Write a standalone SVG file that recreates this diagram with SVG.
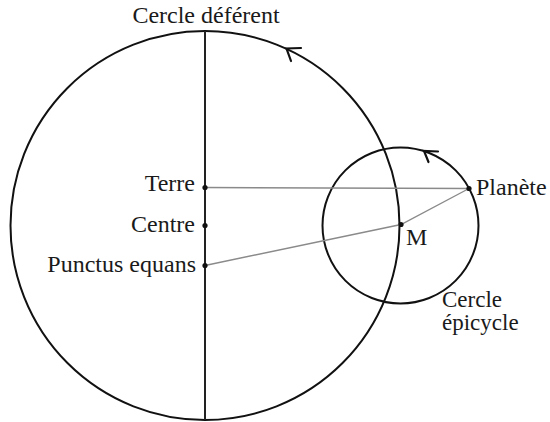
<svg xmlns="http://www.w3.org/2000/svg" width="550" height="422" viewBox="0 0 550 422">
<style>
text{font-family:'Liberation Serif','DejaVu Serif','Times New Roman',serif;font-size:24px;fill:#1a1a1a}
.s{font-size:23px}
.c{fill:none;stroke:#111;stroke-width:2}
.g{fill:none;stroke:#8a8a8a;stroke-width:1.4}
.a{fill:none;stroke:#111;stroke-width:2.2;stroke-linecap:round;stroke-linejoin:miter}
.d{fill:#111}
</style>
<rect width="550" height="422" fill="#fff"/>
<g id="deferent">
<circle class="c" cx="205" cy="225.5" r="194.5"/>
<line x1="205" y1="31" x2="205" y2="420" stroke="#222" stroke-width="2"/>
<text x="206" y="22.5" text-anchor="middle">Cercle déférent</text>
</g>
<g id="epicycle">
<circle class="c" cx="400.5" cy="225.5" r="78"/>
<text class="s" x="442" y="307">Cercle</text>
<text class="s" x="442" y="330">épicycle</text>
</g>
<g id="connectors">
<line class="g" x1="205" y1="187.5" x2="469" y2="188.5"/>
<polyline class="g" points="205,265.5 401,224.5 469,188.5"/>
<path class="a" d="M301 48 L286.5 48.5 L291 61"/>
<path class="a" d="M438 151.5 L424 151 L428.5 162"/>
</g>
<g id="terre">
<circle class="d" cx="205" cy="187.5" r="2.6"/>
<text x="195" y="190.5" text-anchor="end">Terre</text>
</g>
<g id="centre">
<circle class="d" cx="205" cy="225.5" r="2.6"/>
<text x="195" y="231.5" text-anchor="end">Centre</text>
</g>
<g id="equans">
<circle class="d" cx="205" cy="265.5" r="2.6"/>
<text x="196" y="271.5" text-anchor="end">Punctus equans</text>
</g>
<g id="m">
<circle class="d" cx="401" cy="224.5" r="2.6"/>
<text x="406" y="245">M</text>
</g>
<g id="planete">
<circle class="d" cx="469" cy="188.5" r="2.6"/>
<text x="476" y="195">Planète</text>
</g>
</svg>
